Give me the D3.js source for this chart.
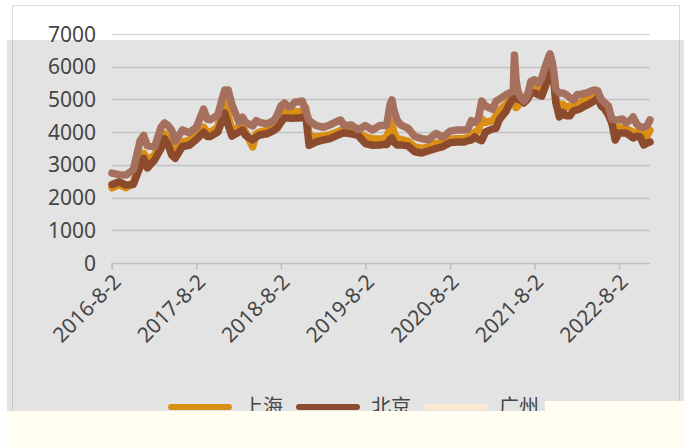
<html>
<head>
<meta charset="utf-8">
<script src="https://d3js.org/d3.v7.min.js"></script>
<style>
  body { margin: 0; background: #ffffff; }
  text { font-family: "Noto Sans", "Noto Sans CJK SC", sans-serif; fill: #454545; }
</style>
</head>
<body>
<div id="chart"></div>
<script>
// dates of the readings (weekly data thinned by eye)
var dates = [
  "2016-08-02","2016-09-02","2016-10-02","2016-11-02","2016-12-02","2016-12-17",
  "2017-01-02","2017-02-02","2017-03-02","2017-03-17","2017-04-02","2017-04-17","2017-05-02","2017-06-02","2017-07-02",
  "2017-08-02","2017-09-02","2017-09-17","2017-10-02","2017-11-02","2017-12-02","2017-12-17",
  "2018-01-02","2018-02-02","2018-02-17","2018-03-02","2018-04-02","2018-04-17","2018-05-02","2018-06-02","2018-07-02","2018-07-17",
  "2018-08-02","2018-08-17","2018-09-02","2018-09-17","2018-10-02","2018-10-17","2018-11-02","2018-11-17","2018-12-02",
  "2019-01-02","2019-02-02","2019-03-02","2019-04-02","2019-04-17","2019-05-02","2019-06-02","2019-07-02",
  "2019-08-02","2019-09-02","2019-10-02","2019-10-17","2019-11-02","2019-11-17","2019-11-25","2019-12-02","2019-12-17",
  "2020-01-02","2020-02-02","2020-03-02","2020-04-02","2020-05-02","2020-06-02","2020-07-02",
  "2020-08-02","2020-09-02","2020-10-02","2020-10-17","2020-11-02","2020-11-17","2020-12-02","2020-12-17",
  "2021-01-02","2021-02-02","2021-02-17","2021-03-02","2021-04-02","2021-04-17","2021-05-02","2021-05-07","2021-05-14","2021-05-22",
  "2021-06-02","2021-06-17","2021-07-02","2021-07-17",
  "2021-08-02","2021-08-17","2021-09-02","2021-09-17","2021-10-02","2021-10-08","2021-10-17","2021-10-25","2021-11-02","2021-11-17","2021-12-02","2021-12-17",
  "2022-01-02","2022-01-17","2022-02-02","2022-02-17","2022-03-02","2022-03-17","2022-04-02","2022-04-17","2022-05-02","2022-05-17",
  "2022-06-02","2022-06-17","2022-07-02","2022-07-17",
  "2022-08-02","2022-08-17","2022-09-02","2022-09-17","2022-10-02","2022-10-17","2022-11-02","2022-11-17","2022-12-02","2022-12-14"
];

// 上海
var shanghai = [
  2300,2400,2300,2450,3100,3350,
  3150,3300,3700,3950,3750,3500,3400,3700,3750,
  3950,4150,4000,4000,4150,4985,4500,
  4050,4150,4200,4000,3550,3950,4000,4050,4150,4250,
  4500,4650,4600,4600,4620,4620,4650,4750,3900,
  3850,3880,3920,4000,4050,4080,4050,4000,
  3850,3800,3780,3800,3850,4150,4300,4000,3800,
  3780,3720,3550,3500,3560,3650,3700,
  3780,3800,3800,3830,3900,4000,4050,4400,
  4300,4350,4500,4650,4850,5000,5100,5150,4750,4800,
  5100,5000,5150,5350,
  5400,5300,5350,5600,5900,6100,5900,5600,5000,4800,4850,4750,
  4800,4800,4850,4900,4950,5000,5050,5100,5150,4900,
  4800,4650,4300,4000,
  4150,4100,4100,4050,4000,4000,4050,3850,3900,4050
];

// 北京
var beijing = [
  2400,2480,2380,2400,2950,3200,
  2905,3150,3500,3800,3608,3300,3200,3560,3600,
  3780,4000,3870,3870,4000,4587,4220,
  3880,4006,4067,3900,3761,3850,3914,3950,4050,4128,
  4300,4434,4434,4420,4434,4434,4450,4526,3600,
  3700,3761,3800,3900,3945,3980,3950,3900,
  3650,3600,3608,3620,3620,3780,3822,3700,3608,
  3610,3580,3400,3364,3430,3500,3560,
  3680,3700,3700,3740,3761,3853,3780,3740,
  4006,4100,4120,4373,4650,4880,5040,5046,5030,5000,
  5000,4893,5000,5200,
  5200,5150,5100,5382,5700,5902,5700,5500,4900,4465,4600,4500,
  4500,4650,4679,4720,4780,4830,4893,4950,5046,4800,
  4700,4530,4281,3761,
  3975,3975,3975,3900,3822,3880,3853,3608,3670,3700
];

// 广州
var guangzhou = [
  2750,2700,2690,2850,3750,3900,
  3580,3550,4150,4280,4200,4050,3720,4067,3980,
  4150,4700,4400,4380,4520,5290,5290,
  4850,4300,4460,4300,4190,4350,4300,4250,4350,4520,
  4800,4890,4780,4800,4920,4930,4950,4650,4350,
  4200,4150,4220,4330,4370,4200,4220,4080,
  4200,4067,4200,4200,4220,4850,4985,4700,4370,
  4220,4120,3870,3800,3770,3960,3850,
  4030,4067,4067,4080,4350,4300,4400,4950,
  4800,4700,4950,5000,5150,5200,5250,6360,5600,5250,
  5076,4950,5100,5550,
  5600,5500,5650,6000,6300,6390,6150,5800,5300,5200,5200,5150,
  5050,4985,5150,5150,5180,5200,5250,5290,5260,5000,
  4900,4800,4400,4373,
  4380,4400,4280,4350,4465,4250,4160,4150,4200,4373
];

var yTicks = [0, 1000, 2000, 3000, 4000, 5000, 6000, 7000];
var xTickLabels = ["2016-8-2", "2017-8-2", "2018-8-2", "2019-8-2", "2020-8-2", "2021-8-2", "2022-8-2"];
var seriesNames = ["上海", "北京", "广州"];

var W = 684, H = 448;
var parse = d3.timeParse("%Y-%m-%d");

var svg = d3.select("#chart").append("svg")
  .attr("width", W).attr("height", H)
  .style("display", "block");

svg.append("rect").attr("width", W).attr("height", H).attr("fill", "#ffffff");
// grey band behind the plot
svg.append("rect").attr("x", 7).attr("y", 40).attr("width", W - 7).attr("height", 371).attr("fill", "#e3e3e3");
// chart frame
svg.append("rect").attr("x", 12.5).attr("y", 5.5).attr("width", 667).attr("height", 460)
  .attr("fill", "none").attr("stroke", "#000").attr("stroke-opacity", 0.13);

var x = d3.scaleTime()
  .domain([parse(dates[0]), parse(dates[dates.length - 1])])
  .range([112, 650]);
var y = d3.scaleLinear().domain([0, 7000]).range([263, 34]);

// gridlines
svg.append("g").selectAll("line").data(yTicks.slice(1)).enter().append("line")
  .attr("x1", 112).attr("x2", 650)
  .attr("y1", function (d) { return Math.round(y(d)) + 0.5; })
  .attr("y2", function (d) { return Math.round(y(d)) + 0.5; })
  .attr("stroke", "#000").attr("stroke-opacity", 0.14).attr("stroke-width", 1.5);

// y labels
svg.append("g").selectAll("text").data(yTicks).enter().append("text")
  .attr("x", 96).attr("y", function (d) { return y(d); })
  .attr("dy", "0.36em")
  .attr("text-anchor", "end")
  .style("font-size", "21px")
  .text(function (d) { return d; });

// x axis
var tickDates = xTickLabels.map(function (s) { return parse(s); });
var xAxis = d3.axisBottom(x).tickValues(tickDates).tickSize(6).tickFormat("");
var gx = svg.append("g").attr("transform", "translate(0," + (Math.round(y(0)) + 0.5) + ")").call(xAxis);
gx.select(".domain").attr("stroke", "#bfbfbf").attr("stroke-width", 1.5)
  .attr("d", "M112,6V0H650");
gx.selectAll(".tick line").attr("stroke", "#bfbfbf").attr("stroke-width", 1.5);

svg.append("g").selectAll("text").data(xTickLabels).enter().append("text")
  .attr("transform", function (d, i) { return "translate(" + (x(tickDates[i]) + 5) + ",278) rotate(-45)"; })
  .attr("text-anchor", "end")
  .attr("dy", "0.35em")
  .style("font-size", "21px")
  .text(function (d) { return d; });

// lines
var colors = ["#d98e14", "#8d4b2d", "#a6705e"];
var legendColors = ["#d98e14", "#8d4b2d", "#fde9d2"];
var allSeries = [shanghai, beijing, guangzhou];
var line = d3.line()
  .x(function (d, i) { return x(parse(dates[i])); })
  .y(function (d) { return y(d); });

svg.append("g").selectAll("path").data(allSeries).enter().append("path")
  .attr("d", line)
  .attr("fill", "none")
  .attr("stroke", function (d, i) { return colors[i]; })
  .attr("stroke-width", 7.5)
  .attr("stroke-linejoin", "round")
  .attr("stroke-linecap", "round");

// legend
var lg = svg.append("g").selectAll("g").data(seriesNames).enter().append("g")
  .attr("transform", function (d, i) { return "translate(" + (171 + i * 128) + ",407)"; });
lg.append("line").attr("x1", 0).attr("x2", 58).attr("y1", 0).attr("y2", 0)
  .attr("stroke", function (d, i) { return legendColors[i]; })
  .attr("stroke-width", 6).attr("stroke-linecap", "round");
lg.append("text").attr("x", 72).attr("y", 0).attr("dy", "0.36em")
  .style("font-family", "'Noto Sans CJK SC'")
  .style("font-size", "20px")
  .text(function (d) { return d; });

// cream strip at the bottom of the picture
svg.append("path")
  .attr("d", "M7,411H545V401H684V448H7Z")
  .attr("fill", "#fffef1");
</script>
</body>
</html>
